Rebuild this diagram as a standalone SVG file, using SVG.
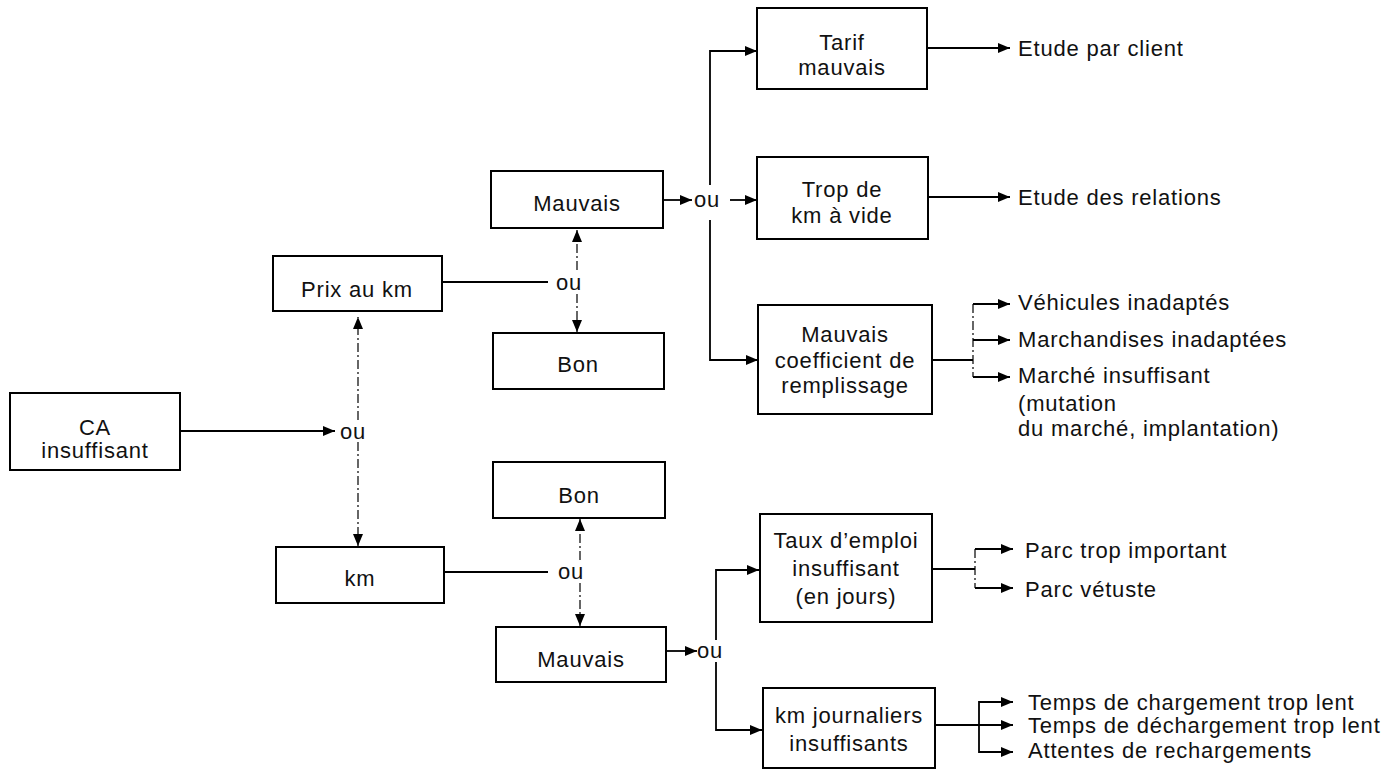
<svg xmlns="http://www.w3.org/2000/svg" width="1399" height="777" viewBox="0 0 1399 777">
<defs>
<marker id="ah" markerUnits="userSpaceOnUse" markerWidth="13" markerHeight="11" refX="12" refY="5" orient="auto">
<path d="M0,0 L12,5 L0,10 z" fill="#000"/>
</marker>
<style>
.box{fill:#fff;stroke:#000;stroke-width:2}
.t{font-family:"Liberation Sans",Arial,sans-serif;font-size:22px;letter-spacing:0.8px;fill:#111}
.c{text-anchor:middle}
.ln{fill:none;stroke:#000;stroke-width:1.8}
.dl{fill:none;stroke:#000;stroke-width:1.2;stroke-dasharray:9 3 2 3}
.ar{marker-end:url(#ah)}
</style>
</defs>
<rect width="1399" height="777" fill="#fff"/>

<g id="connectors">
<path class="ln ar" d="M180,431 H335"/>
<path class="dl ar" d="M358,420 V317"/>
<path class="dl ar" d="M358,442 V546"/>
<path class="ln" d="M442,282 H548"/>
<path class="dl ar" d="M577,270 V230"/>
<path class="dl ar" d="M577,294 V332"/>
<path class="ln ar" d="M663,200 H692"/>
<path class="ln ar" d="M730,200 H757"/>
<path class="ln ar" d="M710,185 V51 H757"/>
<path class="ln ar" d="M710,220 V360 H758"/>
<path class="ln ar" d="M927,48 H1010"/>
<path class="ln ar" d="M928,197 H1010"/>
<path class="ln" d="M932,360 H973"/>
<path class="dl" d="M973,304 V377"/>
<path class="ln ar" d="M973,304 H1010"/>
<path class="ln ar" d="M973,340 H1010"/>
<path class="ln ar" d="M973,377 H1010"/>
<path class="ln" d="M444,572 H548"/>
<path class="dl ar" d="M580,560 V519"/>
<path class="dl ar" d="M580,583 V626"/>
<path class="ln ar" d="M666,651 H697"/>
<path class="ln ar" d="M716,640 V570 H759"/>
<path class="ln ar" d="M716,662 V730 H762"/>
<path class="ln" d="M932,569 H975"/>
<path class="dl" d="M975,549 V588"/>
<path class="ln ar" d="M975,549 H1013"/>
<path class="ln ar" d="M975,588 H1013"/>
<path class="ln ar" d="M935,725 H1013"/>
<path class="ln ar" d="M1013,702 H979 V752 H1013" style="marker-end:url(#ah)"/>
<path class="ln ar" d="M979,702 H1013"/>
<text class="t" x="340" y="439">ou</text>
<text class="t" x="556" y="290">ou</text>
<text class="t" x="694" y="207">ou</text>
<text class="t" x="558" y="579">ou</text>
<text class="t" x="697" y="658">ou</text>
</g>

<g id="ca"><rect class="box" x="10" y="393" width="170" height="77"/><text class="t c" x="95" y="435">CA</text><text class="t c" x="95" y="458">insuffisant</text></g>
<g id="prix"><rect class="box" x="273" y="256" width="169" height="55"/><text class="t c" x="357" y="297">Prix au km</text></g>
<g id="km"><rect class="box" x="276" y="547" width="168" height="56"/><text class="t c" x="360" y="586">km</text></g>
<g id="mauvais1"><rect class="box" x="491" y="171" width="172" height="57"/><text class="t c" x="577" y="211">Mauvais</text></g>
<g id="bon1"><rect class="box" x="493" y="333" width="171" height="56"/><text class="t c" x="578" y="372">Bon</text></g>
<g id="bon2"><rect class="box" x="493" y="462" width="172" height="56"/><text class="t c" x="579" y="503">Bon</text></g>
<g id="mauvais2"><rect class="box" x="496" y="627" width="170" height="55"/><text class="t c" x="581" y="667">Mauvais</text></g>
<g id="tarif"><rect class="box" x="757" y="8" width="170" height="81"/><text class="t c" x="842" y="50">Tarif</text><text class="t c" x="842" y="75">mauvais</text></g>
<g id="trop"><rect class="box" x="757" y="157" width="171" height="82"/><text class="t c" x="842" y="197">Trop de</text><text class="t c" x="842" y="223">km à vide</text></g>
<g id="coef"><rect class="box" x="758" y="305" width="174" height="109"/><text class="t c" x="845" y="342">Mauvais</text><text class="t c" x="845" y="368">coefficient de</text><text class="t c" x="845" y="393">remplissage</text></g>
<g id="taux"><rect class="box" x="760" y="514" width="172" height="108"/><text class="t c" x="846" y="548">Taux d’emploi</text><text class="t c" x="846" y="576">insuffisant</text><text class="t c" x="846" y="604">(en jours)</text></g>
<g id="kmj"><rect class="box" x="763" y="688" width="172" height="80"/><text class="t c" x="849" y="723">km journaliers</text><text class="t c" x="849" y="751">insuffisants</text></g>

<g id="etude1"><text class="t" x="1018" y="56">Etude par client</text></g>
<g id="etude2"><text class="t" x="1018" y="205">Etude des relations</text></g>
<g id="vehicules"><text class="t" x="1018" y="310">Véhicules inadaptés</text></g>
<g id="marchandises"><text class="t" x="1018" y="347">Marchandises inadaptées</text></g>
<g id="marche"><text class="t" x="1018" y="383">Marché insuffisant</text><text class="t" x="1018" y="411">(mutation</text><text class="t" x="1018" y="436">du marché, implantation)</text></g>
<g id="parc1"><text class="t" x="1025" y="558">Parc trop important</text></g>
<g id="parc2"><text class="t" x="1025" y="597">Parc vétuste</text></g>
<g id="temps1"><text class="t" x="1028" y="710">Temps de chargement trop lent</text></g>
<g id="temps2"><text class="t" x="1028" y="733">Temps de déchargement trop lent</text></g>
<g id="attentes"><text class="t" x="1028" y="758">Attentes de rechargements</text></g>
</svg>
